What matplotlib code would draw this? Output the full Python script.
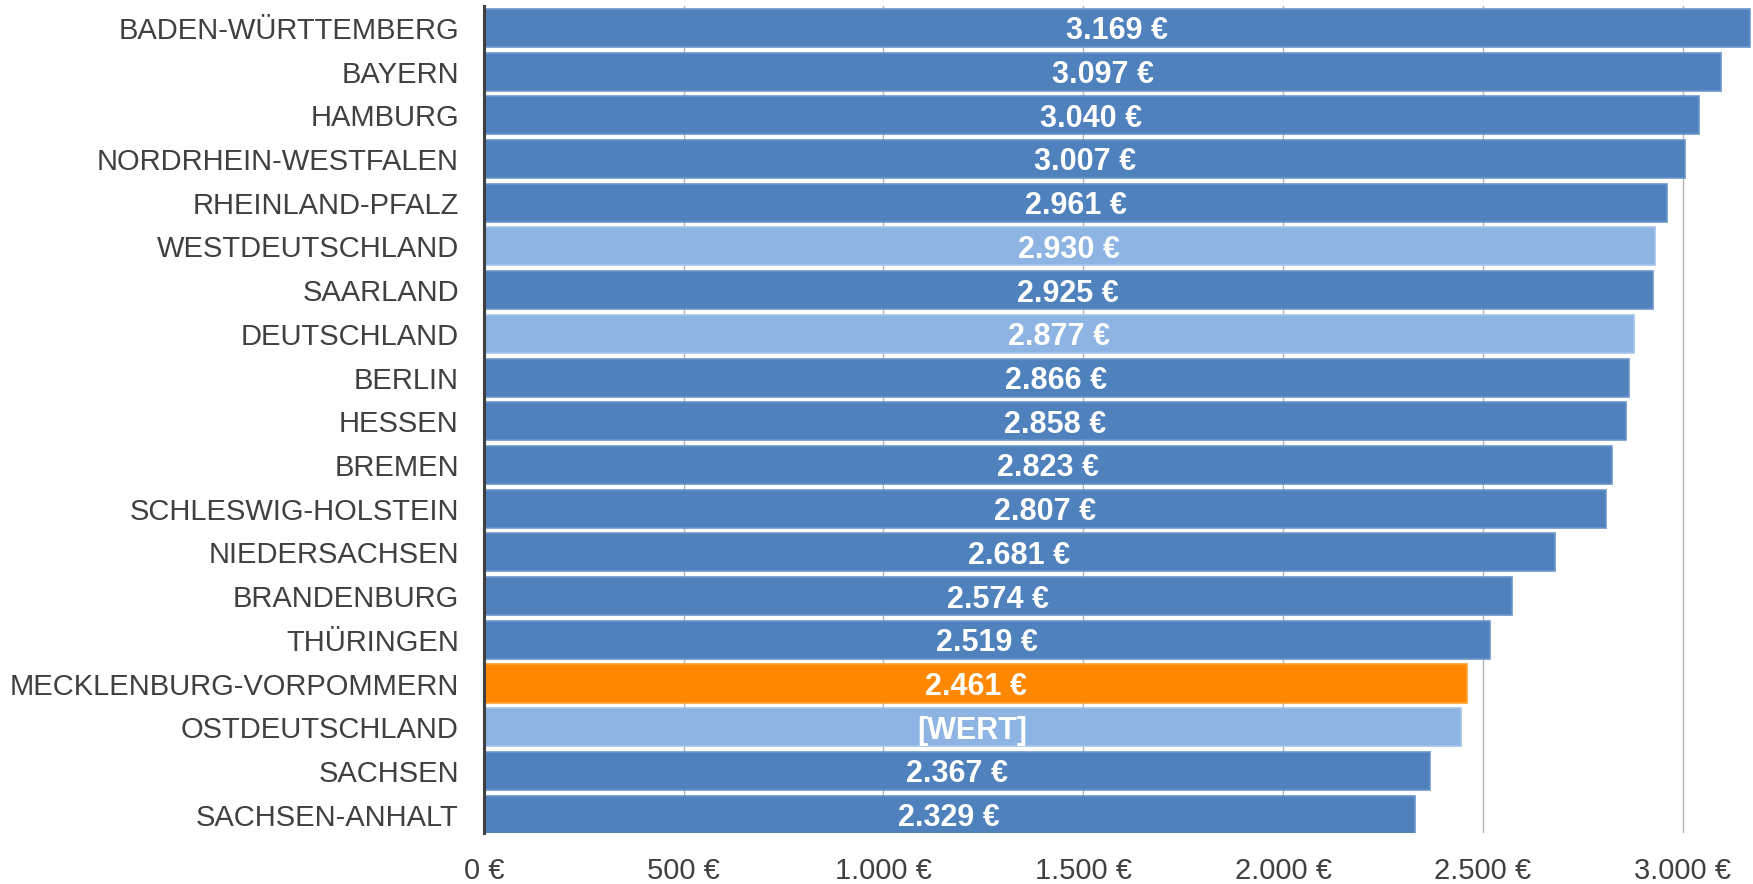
import matplotlib
matplotlib.use("Agg")
import matplotlib.pyplot as plt
import matplotlib.ticker as ticker

plt.rcParams.update({
    "font.family": ["Liberation Sans", "DejaVu Sans"],
})

# data
regions = [
    "BADEN-WÜRTTEMBERG", "BAYERN", "HAMBURG", "NORDRHEIN-WESTFALEN",
    "RHEINLAND-PFALZ", "WESTDEUTSCHLAND", "SAARLAND", "DEUTSCHLAND",
    "BERLIN", "HESSEN", "BREMEN", "SCHLESWIG-HOLSTEIN", "NIEDERSACHSEN",
    "BRANDENBURG", "THÜRINGEN", "MECKLENBURG-VORPOMMERN", "OSTDEUTSCHLAND",
    "SACHSEN", "SACHSEN-ANHALT",
]
values = [3169, 3097, 3040, 3007, 2961, 2930, 2925, 2877, 2866, 2858,
          2823, 2807, 2681, 2574, 2519, 2461, 2445, 2367, 2329]
value_labels = ["3.169 €", "3.097 €", "3.040 €", "3.007 €", "2.961 €",
                "2.930 €", "2.925 €", "2.877 €", "2.866 €", "2.858 €",
                "2.823 €", "2.807 €", "2.681 €", "2.574 €", "2.519 €",
                "2.461 €", "[WERT]", "2.367 €", "2.329 €"]
highlight_aggregate = ["WESTDEUTSCHLAND", "DEUTSCHLAND", "OSTDEUTSCHLAND"]
highlight_state = "MECKLENBURG-VORPOMMERN"

blue = "#4F81BD"
light = "#8EB4E3"
orange = "#FF8800"
colors = []
for r in regions:
    if r == highlight_state:
        colors.append(orange)
    elif r in highlight_aggregate:
        colors.append(light)
    else:
        colors.append(blue)
edges = ["#FFA030" if c == orange else ("#A6C4EA" if c == light else "#6B95C9") for c in colors]

fig = plt.figure(figsize=(17.53, 8.84), dpi=100)
ax = fig.add_axes([0.276, 0.0577, 0.724, 0.9355])

pos = list(range(len(regions)))
bars = ax.barh(pos, values, height=0.87, color=colors, edgecolor=edges,
               linewidth=1.2, zorder=2)
anns = ax.bar_label(bars, labels=value_labels, label_type="center", color="white",
                    fontsize=22, fontweight="bold")
# nudge the in-bar labels down a little, like the original
for a in anns:
    a.xyann = (0, -2.5)

ax.set_ylim(18.42, -0.5)
ax.set_xlim(0, 3176)
ax.set_yticks(pos)
ax.set_yticklabels(regions)
ax.xaxis.set_major_locator(ticker.MultipleLocator(500))
ax.xaxis.set_major_formatter(
    ticker.FuncFormatter(lambda v, p: f"{int(v):,}".replace(",", ".") + " €"))

ax.grid(axis="x", color="#B4B4B4", linewidth=1.0, zorder=0)
ax.set_axisbelow(True)
for s in ["top", "right", "bottom"]:
    ax.spines[s].set_visible(False)
ax.spines["left"].set_color("#404040")
ax.spines["left"].set_linewidth(2.2)
ax.spines["left"].set_zorder(3)

ax.tick_params(axis="y", length=0, pad=18, labelsize=21, labelcolor="#404040")
ax.tick_params(axis="x", length=0, pad=17, labelsize=21, labelcolor="#404040")

fig.savefig("out.png", dpi=100)
